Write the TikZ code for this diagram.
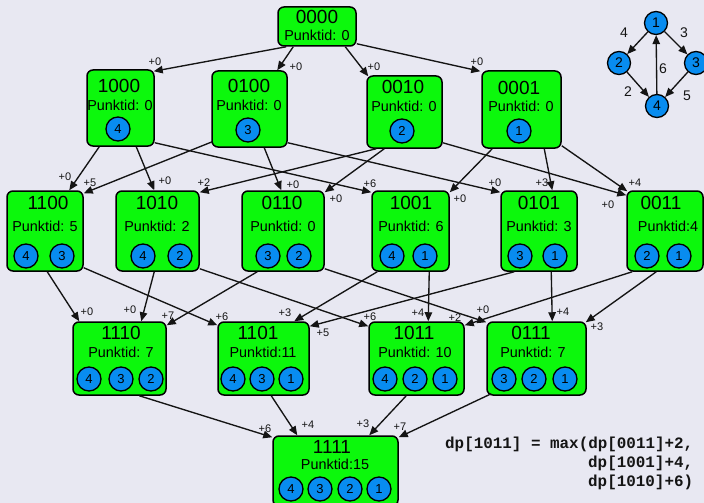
\documentclass[tikz,border=0pt]{standalone}
\usepackage{fontspec}
\setmainfont{Liberation Sans}
\newfontfamily\codefont{Liberation Mono}
\usetikzlibrary{arrows.meta,calc}
\definecolor{bg}{RGB}{232,232,242}
\definecolor{boxgreen}{RGB}{12,248,12}
\definecolor{vblue}{RGB}{8,140,240}
\definecolor{ink}{RGB}{20,20,20}

\begin{document}
\begin{tikzpicture}[x=1pt,y=-1pt,
  stbox/.style={draw=black, line width=1.5pt, fill=boxgreen, rounded corners=6pt, inner sep=0},
  ttl/.style={inner sep=0, font=\fontsize{19}{19}\selectfont},
  pts/.style={inner sep=0, font=\fontsize{14.4}{14}\selectfont},
  vtx/.style={circle, draw=black, line width=1.3pt, fill=vblue, minimum size=24pt, inner sep=0, font=\fontsize{13}{13}\selectfont},
  arr/.style={line width=1.35pt, draw=ink, -{Triangle[length=9pt,width=7.5pt]}},
  wt/.style={inner sep=0, text=ink, font=\fontsize{11}{11}\selectfont},
  gw/.style={inner sep=0, text=ink, font=\fontsize{14}{14}\selectfont},
  code/.style={inner sep=0, anchor=west, text=ink, font=\codefont\bfseries\fontsize{15.9}{16}\selectfont},
]
\fill[bg] (0,0) rectangle (704,503);
\useasboundingbox (0,0) rectangle (704,503);

% ---------- state boxes ----------
\node[stbox, minimum width=78, minimum height=39] (s0000) at (317,26.5) {};
\node[stbox, minimum width=67, minimum height=76] (s1000) at (120.5,108) {};
\node[stbox, minimum width=75, minimum height=76] (s0100) at (249.5,109) {};
\node[stbox, minimum width=75, minimum height=72] (s0010) at (404.5,112) {};
\node[stbox, minimum width=79, minimum height=77] (s0001) at (521.5,109.5) {};
\node[stbox, minimum width=76, minimum height=80] (s1100) at (45,231) {};
\node[stbox, minimum width=83, minimum height=80] (s1010) at (157.5,231) {};
\node[stbox, minimum width=82, minimum height=80] (s0110) at (283,231) {};
\node[stbox, minimum width=77, minimum height=80] (s1001) at (410.5,231) {};
\node[stbox, minimum width=76, minimum height=80] (s0101) at (539,231) {};
\node[stbox, minimum width=76, minimum height=80] (s0011) at (665,231) {};
\node[stbox, minimum width=93, minimum height=73] (s1110) at (119.5,358.5) {};
\node[stbox, minimum width=91, minimum height=73] (s1101) at (263.5,358.5) {};
\node[stbox, minimum width=95, minimum height=73] (s1011) at (416.5,358.5) {};
\node[stbox, minimum width=99, minimum height=73] (s0111) at (536.5,358.5) {};
\node[stbox, minimum width=125, minimum height=70] (s1111) at (335.5,471) {};

% ---------- box contents ----------
\node[ttl] (t0000) at (317,17) {0000};
\node[pts] (p0000) at (317,35) {Punktid: 0};

\node[ttl] (t1000) at (119,86) {1000};
\node[pts] (p1000) at (120,105) {Punktid: 0};
\node[vtx] (v1000a) at (118,129) {4};
\node[ttl] (t0100) at (249,86) {0100};
\node[pts] (p0100) at (249,105) {Punktid: 0};
\node[vtx] (v0100a) at (248,130) {3};
\node[ttl] (t0010) at (403,87) {0010};
\node[pts] (p0010) at (404,106) {Punktid: 0};
\node[vtx] (v0010a) at (402,131) {2};
\node[ttl] (t0001) at (519,88) {0001};
\node[pts] (p0001) at (521,106) {Punktid: 0};
\node[vtx] (v0001a) at (519,131) {1};

\node[ttl] (t1100) at (48,203) {1100};
\node[pts] (p1100) at (45,226) {Punktid: 5};
\node[vtx] (v1100a) at (26,256) {4};
\node[vtx] (v1100b) at (62,256) {3};
\node[ttl] (t1010) at (157,203) {1010};
\node[pts] (p1010) at (157,226) {Punktid: 2};
\node[vtx] (v1010a) at (143,256) {4};
\node[vtx] (v1010b) at (180,256) {2};
\node[ttl] (t0110) at (282,203) {0110};
\node[pts] (p0110) at (283,226) {Punktid: 0};
\node[vtx] (v0110a) at (268,256) {3};
\node[vtx] (v0110b) at (299,256) {2};
\node[ttl] (t1001) at (411,203) {1001};
\node[pts] (p1001) at (411,226) {Punktid: 6};
\node[vtx] (v1001a) at (392,256) {4};
\node[vtx] (v1001b) at (425,256) {1};
\node[ttl] (t0101) at (539,203) {0101};
\node[pts] (p0101) at (539,226) {Punktid: 3};
\node[vtx] (v0101a) at (520,256) {3};
\node[vtx] (v0101b) at (555,256) {1};
\node[ttl] (t0011) at (661,203) {0011};
\node[pts] (p0011) at (668,226) {Punktid:4};
\node[vtx] (v0011a) at (647,256) {2};
\node[vtx] (v0011b) at (679,256) {1};

\node[ttl] (t1110) at (121,333) {1110};
\node[pts] (p1110) at (121,352) {Punktid: 7};
\node[vtx] (v1110a) at (89,379) {4};
\node[vtx] (v1110b) at (121,379) {3};
\node[vtx] (v1110c) at (151,379) {2};
\node[ttl] (t1101) at (258,333) {1101};
\node[pts] (p1101) at (263,352) {Punktid:11};
\node[vtx] (v1101a) at (233,379) {4};
\node[vtx] (v1101b) at (262,379) {3};
\node[vtx] (v1101c) at (291,379) {1};
\node[ttl] (t1011) at (414,333) {1011};
\node[pts] (p1011) at (415,352) {Punktid: 10};
\node[vtx] (v1011a) at (385,379) {4};
\node[vtx] (v1011b) at (415,379) {2};
\node[vtx] (v1011c) at (445,379) {1};
\node[ttl] (t0111) at (531,333) {0111};
\node[pts] (p0111) at (533,352) {Punktid: 7};
\node[vtx] (v0111a) at (504,379) {3};
\node[vtx] (v0111b) at (534,379) {2};
\node[vtx] (v0111c) at (565,379) {1};

\node[ttl] (t1111) at (332,447) {1111};
\node[pts] (p1111) at (335,464) {Punktid:15};
\node[vtx] (v1111a) at (291,489) {4};
\node[vtx] (v1111b) at (320,489) {3};
\node[vtx] (v1111c) at (350,489) {2};
\node[vtx] (v1111d) at (379,489) {1};

% ---------- transitions: one bit added ----------
\draw[arr] ($(s0000.south west)+(9,0)$) -- ($(s1000.north east)+(-1,2)$);
\draw[arr] ($(s0000.south west)+(16,0)$) -- ($(s0100.north west)+(66,0)$);
\draw[arr] ($(s0000.south west)+(68,0)$) -- ($(s0010.north west)+(2,1)$);
\draw[arr] ($(s0000.south east)+(0,-3)$) -- ($(s0001.north west)+(-1,1)$);
\node[wt] (w01) at (155,62) {+0};
\node[wt] (w02) at (296,67) {+0};
\node[wt] (w03) at (374,67) {+0};
\node[wt] (w04) at (477,62) {+0};

\draw[arr] ($(s1000.south west)+(13,0)$) -- ($(s1100.north west)+(63,0)$);
\draw[arr] ($(s0100.south west)+(1,-6)$) -- ($(s1100.north east)+(0,3)$);
\draw[arr] ($(s1000.south west)+(50,0)$) -- ($(s1010.north west)+(39,0)$);
\draw[arr] ($(s0010.south west)+(10,0)$) -- ($(s1010.north east)+(0,2)$);
\draw[arr] ($(s0100.south west)+(53,0)$) -- ($(s0110.north west)+(40,0)$);
\draw[arr] ($(s0010.south west)+(18,0)$) -- ($(s0110.north east)+(0,2)$);
\draw[arr] ($(s1000.south east)+(0,-4)$) -- ($(s1001.north west)+(0,2)$);
\draw[arr] ($(s0001.south west)+(11,0)$) -- ($(s1001.north east)+(0,2)$);
\draw[arr] ($(s0100.south east)+(0,-5)$) -- ($(s0101.north west)+(0,2)$);
\draw[arr] ($(s0001.south west)+(63,0)$) -- ($(s0101.north west)+(52,0)$);
\draw[arr] ($(s0010.south east)+(0,-6)$) -- ($(s0011.north west)+(0,5)$);
\draw[arr] ($(s0001.south east)+(0,-3)$) -- ($(s0011.north west)+(1,1)$);
\node[wt] (w11) at (65,177) {+0};
\node[wt] (w12) at (90,183) {+5};
\node[wt] (w13) at (165,181) {+0};
\node[wt] (w14) at (204,183) {+2};
\node[wt] (w15) at (293,185) {+0};
\node[wt] (w16) at (336,199) {+0};
\node[wt] (w17) at (370,184) {+6};
\node[wt] (w18) at (460,199) {+0};
\node[wt] (w19) at (495,183) {+0};
\node[wt] (w110) at (542,183) {+3};
\node[wt] (w111) at (608,205) {+0};
\node[wt] (w112) at (635,183) {+4};

\draw[arr] ($(s1100.south west)+(41,0)$) -- ($(s1110.north west)+(7,0)$);
\draw[arr] ($(s1010.south west)+(39,0)$) -- ($(s1110.north west)+(69,0)$);
\draw[arr] ($(s0110.south west)+(16,0)$) -- ($(s1110.north east)+(0,4)$);
\draw[arr] ($(s1100.south east)+(0,-4)$) -- ($(s1101.north west)+(0,4)$);
\draw[arr] ($(s1001.south west)+(6,0)$) -- ($(s1101.north west)+(77,0)$);
\draw[arr] ($(s0101.south west)+(14,0)$) -- ($(s1101.north east)+(0,5)$);
\draw[arr] ($(s1010.south east)+(0,-3)$) -- ($(s1011.north west)+(0,5)$);
\draw[arr] ($(s1001.south west)+(58,0)$) -- ($(s1011.north west)+(60,0)$);
\draw[arr] ($(s0011.south west)+(6,0)$) -- ($(s1011.north east)+(0,4)$);
\draw[arr] ($(s0110.south east)+(0,-3)$) -- ($(s0111.north west)+(0,1)$);
\draw[arr] ($(s0101.south west)+(51,0)$) -- ($(s0111.north west)+(66,0)$);
\draw[arr] ($(s0011.south west)+(30,0)$) -- ($(s0111.north east)+(-1,1)$);
\node[wt] (w21) at (87,312) {+0};
\node[wt] (w22) at (130,310) {+0};
\node[wt] (w23) at (168,316) {+7};
\node[wt] (w24) at (222,317) {+6};
\node[wt] (w25) at (285,313) {+3};
\node[wt] (w26) at (323,333) {+5};
\node[wt] (w27) at (370,317) {+6};
\node[wt] (w28) at (418,313) {+4};
\node[wt] (w29) at (455,318) {+2};
\node[wt] (w210) at (483,310) {+0};
\node[wt] (w211) at (563,312) {+4};
\node[wt] (w212) at (597,327) {+3};

\draw[arr] ($(s1110.south west)+(67,0)$) -- ($(s1111.north west)+(0,2)$);
\draw[arr] ($(s1101.south west)+(54,0)$) -- ($(s1111.north west)+(25,0)$);
\draw[arr] ($(s1011.south west)+(38,0)$) -- ($(s1111.north west)+(97,0)$);
\draw[arr] ($(s0111.south west)+(5,-2)$) -- ($(s1111.north east)+(0,2)$);
\node[wt] (w31) at (265,429) {+6};
\node[wt] (w32) at (308,425) {+4};
\node[wt] (w33) at (363,424) {+3};
\node[wt] (w34) at (400,427) {+7};

% ---------- the underlying task graph ----------
\node[vtx, minimum size=23pt, font=\fontsize{14}{14}\selectfont] (g1) at (656,23) {1};
\node[vtx, minimum size=23pt, font=\fontsize{14}{14}\selectfont] (g2) at (619,63) {2};
\node[vtx, minimum size=23pt, font=\fontsize{14}{14}\selectfont] (g3) at (696,63) {3};
\node[vtx, minimum size=23pt, font=\fontsize{14}{14}\selectfont] (g4) at (657,106) {4};
\draw[arr] (g1) -- (g2);
\draw[arr] (g1) -- (g3);
\draw[arr] (g2) -- (g4);
\draw[arr] (g3) -- (g4);
\draw[arr] (g4) -- (g1);
\node[gw] (gw12) at (624,33) {4};
\node[gw] (gw13) at (684,33) {3};
\node[gw] (gw24) at (628,92) {2};
\node[gw] (gw34) at (687,96) {5};
\node[gw] (gw41) at (663,69) {6};

% ---------- recurrence ----------
\node[code] (f1) at (445,444) {dp[1011] = max(dp[0011]+2,};
\node[code] (f2) at (588,463) {dp[1001]+4,};
\node[code] (f3) at (588,482) {dp[1010]+6)};
\end{tikzpicture}
\end{document}
